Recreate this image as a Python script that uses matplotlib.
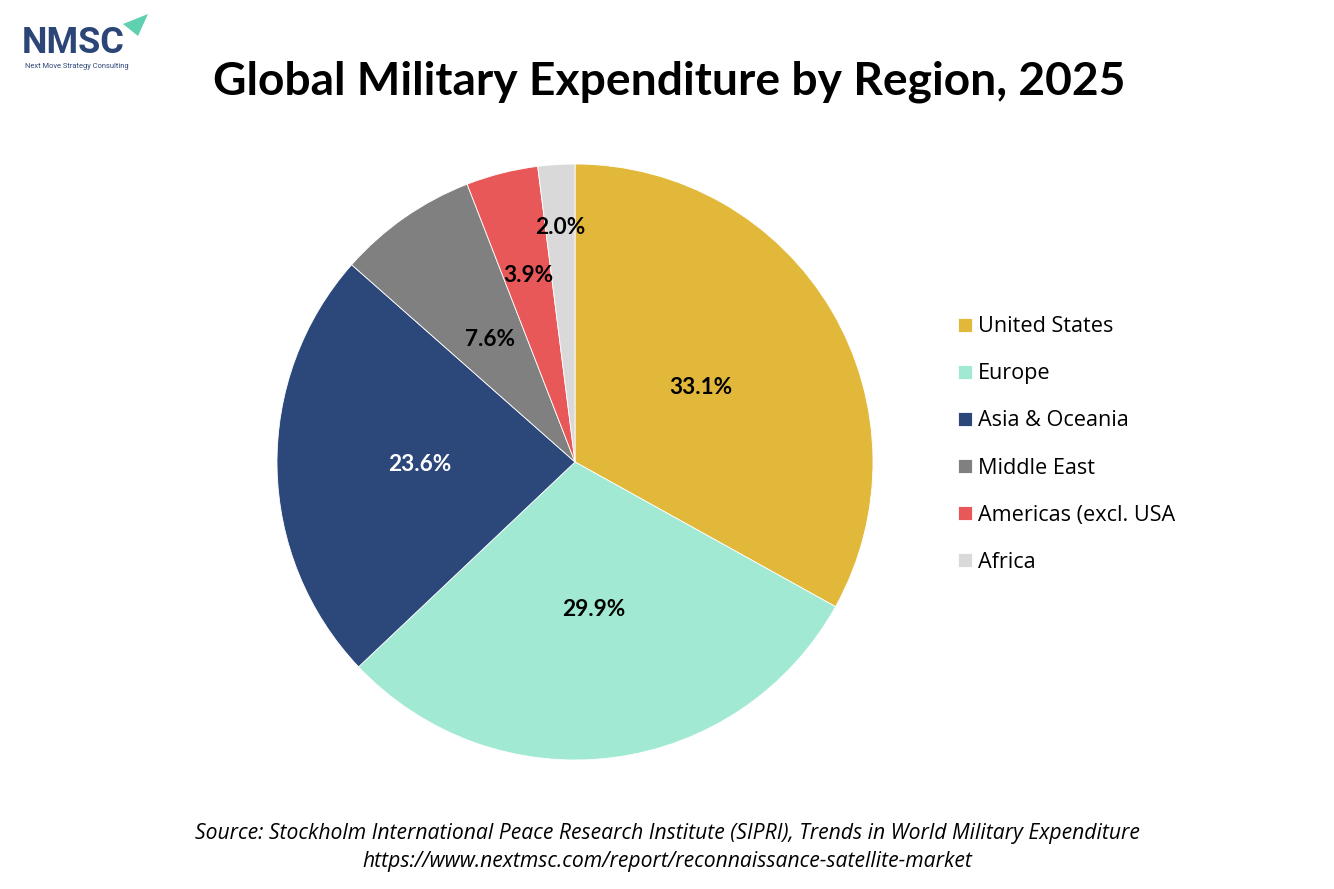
import matplotlib
matplotlib.use("Agg")
import matplotlib.pyplot as plt
import numpy as np
from matplotlib.patches import Polygon

regions = ["United States", "Europe", "Asia & Oceania", "Middle East",
           "Americas (excl. USA", "Africa"]
shares = [33.1, 29.9, 23.6, 7.6, 3.9, 2.0]
colors = ["#E2B83B", "#A1E9D2", "#2C477A", "#808080", "#E85858", "#D9D9D9"]
label_colors = ["black", "black", "white", "black", "black", "black"]
label_dist = [0.49, 0.50, 0.52, 0.50, 0.645, 0.79]

title = "Global Military Expenditure by Region, 2025"
source1 = "Source: Stockholm International Peace Research Institute (SIPRI), Trends in World Military Expenditure"
source2 = "https://www.nextmsc.com/report/reconnaissance-satellite-market"

W, H = 1334, 889
fig = plt.figure(figsize=(W / 100, H / 100), dpi=100)
fig.patch.set_facecolor("white")

# pie axes: centre (575,462), radius ~298
r = 298
cx, cy = 575, 462
ax = fig.add_axes([(cx - r) / W, 1 - (cy + r) / H, 2 * r / W, 2 * r / H])
wedges, _ = ax.pie(shares, colors=colors, startangle=90, counterclock=False,
                   wedgeprops=dict(edgecolor="white", linewidth=0.6),
                   radius=1.0)
ax.set_xlim(-1, 1)
ax.set_ylim(-1, 1)
ax.set_aspect("equal")
ax.axis("off")

for w, v, c, d in zip(wedges, shares, label_colors, label_dist):
    ang = np.deg2rad((w.theta1 + w.theta2) / 2)
    ax.text(d * np.cos(ang), d * np.sin(ang), f"{v:.1f}%", ha="center",
            va="center", fontsize=16.3, fontweight="bold", color=c,
            family=["Lato", "DejaVu Sans"])

# legend
leg = fig.legend(wedges, regions, loc="upper left",
                 bbox_to_anchor=(938 / W, 1 - 297 / H), frameon=False,
                 prop=dict(family=["Open Sans", "DejaVu Sans"], size=15.6),
                 handlelength=0.65, handleheight=0.65, handletextpad=0.3,
                 labelspacing=1.2)

# title
fig.text(669 / W, 1 - 82 / H, title, ha="center", va="center",
         fontsize=33.2, fontweight="bold", family=["Lato", "DejaVu Sans"])

# source
fig.text(667 / W, 1 - 834 / H, source1, ha="center", va="center",
         fontsize=15.2, style="italic", family=["Open Sans", "DejaVu Sans"])
fig.text(667 / W, 1 - 861 / H, source2, ha="center", va="center",
         fontsize=15.2, style="italic", family=["Open Sans", "DejaVu Sans"])

# logo
fig.text(22 / W, 1 - 53 / H, "NMSC", ha="left", va="baseline", fontsize=26,
         fontweight="bold", color="#2C4577", family=["Roboto", "DejaVu Sans"])
fig.text(25 / W, 1 - 66 / H, "Next Move Strategy Consulting", ha="left",
         va="center", fontsize=5.4, color="#2C4577",
         family=["Roboto", "DejaVu Sans"])
tri = Polygon([[123 / W, 1 - 24 / H], [148 / W, 1 - 14 / H],
               [138 / W, 1 - 36 / H]], closed=True,
              transform=fig.transFigure, facecolor="#5FD0B0",
              edgecolor="none")
fig.patches.append(tri)

fig.savefig("out.png", dpi=100, facecolor="white")
